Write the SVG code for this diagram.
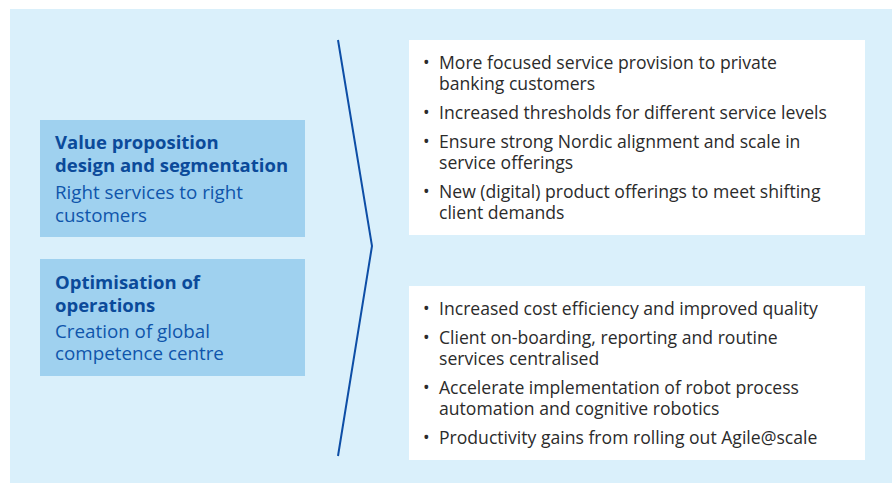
<svg xmlns="http://www.w3.org/2000/svg" width="892" height="483" viewBox="0 0 892 483">
<style>
.bg{fill:#daf0fb}
.lbox{fill:#9fd1ef}
.rbox{fill:#ffffff}
.h{font-family:"Open Sans","Liberation Sans",sans-serif;font-weight:700;font-size:18.5px;fill:#0b4a9a}
.s{font-family:"Open Sans","Liberation Sans",sans-serif;font-size:18.8px;fill:#0f55ab}
.b{font-family:"Open Sans","Liberation Sans",sans-serif;font-size:17.6px;fill:#2b2b2b}
.conn{fill:none;stroke:#0d4ea6;stroke-width:2}
</style>
<rect class="bg" x="10" y="9" width="882" height="474"/>
<g id="node-value">
<rect class="lbox" x="40" y="120" width="265" height="117"/>
<text class="h" x="55" y="149">Value proposition</text>
<text class="h" x="55" y="172">design and segmentation</text>
<text class="s" x="55" y="199">Right services to right</text>
<text class="s" x="55" y="222">customers</text>
</g>
<g id="node-optimisation">
<rect class="lbox" x="40" y="259" width="265" height="117"/>
<text class="h" x="55" y="289">Optimisation of</text>
<text class="h" x="55" y="312">operations</text>
<text class="s" x="55" y="338">Creation of global</text>
<text class="s" x="55" y="360">competence centre</text>
</g>
<g id="connectors">
<polyline class="conn" points="338,40 372,246 338,456"/>
</g>
<g id="node-outcomes-1">
<rect class="rbox" x="409" y="40" width="456" height="195"/>
<text class="b" x="423" y="69">•</text><text class="b" x="439" y="69">More focused service provision to private</text>
<text class="b" x="439" y="90">banking customers</text>
<text class="b" x="423" y="119">•</text><text class="b" x="439" y="119">Increased thresholds for different service levels</text>
<text class="b" x="423" y="148">•</text><text class="b" x="439" y="148">Ensure strong Nordic alignment and scale in</text>
<text class="b" x="439" y="169">service offerings</text>
<text class="b" x="423" y="198">•</text><text class="b" x="439" y="198">New (digital) product offerings to meet shifting</text>
<text class="b" x="439" y="219">client demands</text>
</g>
<g id="node-outcomes-2">
<rect class="rbox" x="409" y="286" width="456" height="174"/>
<text class="b" x="423" y="315">•</text><text class="b" x="439" y="315">Increased cost efficiency and improved quality</text>
<text class="b" x="423" y="344">•</text><text class="b" x="439" y="344">Client on-boarding, reporting and routine</text>
<text class="b" x="439" y="365">services centralised</text>
<text class="b" x="423" y="394">•</text><text class="b" x="439" y="394">Accelerate implementation of robot process</text>
<text class="b" x="439" y="415">automation and cognitive robotics</text>
<text class="b" x="423" y="444">•</text><text class="b" x="439" y="444">Productivity gains from rolling out Agile@scale</text>
</g>
</svg>
